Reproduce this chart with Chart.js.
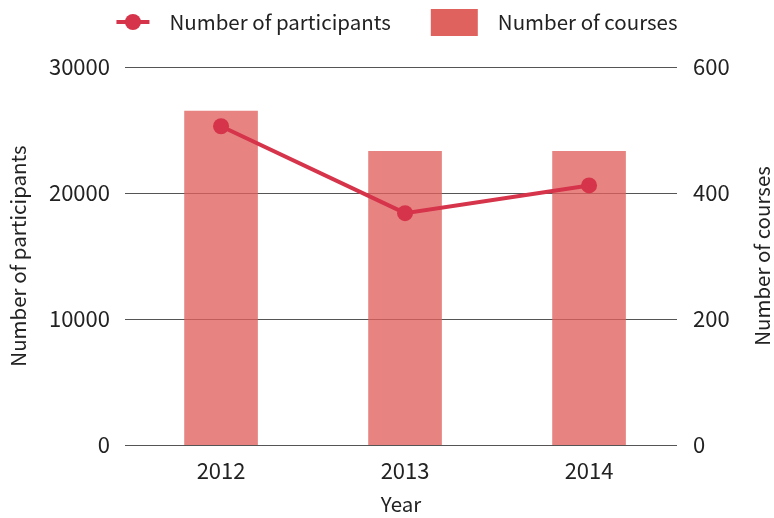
<!DOCTYPE html>
<html>
<head>
<meta charset="utf-8">
<script src="https://cdn.jsdelivr.net/npm/chart.js@4.4.1/dist/chart.umd.min.js"></script>
<style>
  html, body { margin: 0; padding: 0; background: #fff; }
  #wrap { width: 774px; height: 518px; position: relative; }
</style>
</head>
<body>
<div id="wrap"><canvas id="c" width="774" height="518"></canvas></div>
<script>
const years = ['2012', '2013', '2014'];
const participants = [25300, 18400, 20600];
const courses = [530, 466, 466];
const participantTicks = [0, 10000, 20000, 30000];
const courseTicks = [0, 200, 400, 600];
const seriesNames = ['Number of participants', 'Number of courses'];
const axisTitles = { x: 'Year', left: 'Number of participants', right: 'Number of courses' };

const FONT = '"Noto Sans CJK KR", Lato, sans-serif';
const FS = 20.5;   // titles and legend
const TS = 22;     // tick labels
const TEXT = '#222222';
const LINE_COLOR = '#d6344a';
const BAR_COLOR = 'rgba(224, 98, 95, 0.78)';
const BAR_LEGEND = '#e0625f';

const customDecor = {
  id: 'customDecor',
  afterDraw(chart) {
    const ctx = chart.ctx;
    const ca = chart.chartArea;
    ctx.save();
    ctx.font = FS + 'px ' + FONT;
    ctx.fillStyle = TEXT;
    ctx.textBaseline = 'middle';
    const tw1 = ctx.measureText(seriesNames[0]).width;
    const tw2 = ctx.measureText(seriesNames[1]).width;
    const total = 33 + 20 + tw1 + 40 + 47 + 20 + tw2;
    let x = (ca.left + ca.right) / 2 - 4 - total / 2;
    const y = 22;
    ctx.strokeStyle = LINE_COLOR;
    ctx.lineWidth = 4;
    ctx.beginPath(); ctx.moveTo(x, y); ctx.lineTo(x + 33, y); ctx.stroke();
    ctx.fillStyle = LINE_COLOR;
    ctx.beginPath(); ctx.arc(x + 16.5, y, 8, 0, Math.PI * 2); ctx.fill();
    x += 53;
    ctx.fillStyle = TEXT;
    ctx.textAlign = 'left';
    ctx.fillText(seriesNames[0], x, y);
    x += tw1 + 40;
    ctx.fillStyle = BAR_LEGEND;
    ctx.fillRect(x, y - 13, 47, 27);
    x += 67;
    ctx.fillStyle = TEXT;
    ctx.fillText(seriesNames[1], x, y);
    ctx.translate(762, (ca.top + ca.bottom) / 2);
    ctx.rotate(-Math.PI / 2);
    ctx.textAlign = 'center';
    ctx.fillText(axisTitles.right, 0, 0);
    ctx.restore();
  }
};

new Chart(document.getElementById('c'), {
  type: 'bar',
  data: {
    datasets: [
      {
        type: 'line',
        label: seriesNames[0],
        data: participants.map((v, i) => ({ x: i, y: v })),
        yAxisID: 'y',
        borderColor: LINE_COLOR,
        backgroundColor: LINE_COLOR,
        borderWidth: 4,
        pointRadius: 8,
        pointHoverRadius: 8,
        pointBackgroundColor: LINE_COLOR,
        pointBorderWidth: 0,
        tension: 0
      },
      {
        type: 'bar',
        label: seriesNames[1],
        data: courses.map((v, i) => ({ x: i, y: v })),
        yAxisID: 'y1',
        backgroundColor: BAR_COLOR,
        borderWidth: 0,
        barThickness: 73
      }
    ]
  },
  options: {
    responsive: false,
    animation: false,
    devicePixelRatio: 1,
    layout: { padding: { top: 67, left: 0, right: 0, bottom: 0 } },
    plugins: {
      legend: { display: false },
      tooltip: { enabled: false }
    },
    scales: {
      x: {
        type: 'linear',
        offset: false,
        bounds: 'data',
        min: -0.522,
        max: 2.478,
        afterBuildTicks(scale) { scale.ticks = years.map((_, i) => ({ value: i })); },
        afterFit(scale) { scale.height = 73; },
        grid: { display: false, drawTicks: false },
        border: { display: false },
        ticks: {
          padding: 12,
          color: TEXT,
          font: { family: FONT, size: TS, lineHeight: 1.2 },
          callback: (v) => years[v] !== undefined ? years[v] : ''
        },
        title: {
          display: true,
          text: axisTitles.x,
          color: TEXT,
          font: { family: FONT, size: FS, lineHeight: 1.2 },
          padding: { top: 0, bottom: 1 }
        }
      },
      y: {
        position: 'left',
        min: 0,
        max: 30000,
        afterBuildTicks(scale) { scale.ticks = participantTicks.map(v => ({ value: v })); },
        afterFit(scale) { scale.width = 125; },
        grid: { display: true, color: '#555555', lineWidth: 1, drawTicks: false },
        border: { display: false },
        ticks: {
          padding: 15,
          color: TEXT,
          font: { family: FONT, size: TS },
          callback: (v) => String(v)
        },
        title: {
          display: true,
          text: axisTitles.left,
          color: TEXT,
          font: { family: FONT, size: FS, lineHeight: 1.2 },
          padding: { top: 6, bottom: 0 }
        }
      },
      y1: {
        position: 'right',
        min: 0,
        max: 600,
        afterBuildTicks(scale) { scale.ticks = courseTicks.map(v => ({ value: v })); },
        afterFit(scale) { scale.width = 97; },
        grid: { display: false, drawTicks: false },
        border: { display: false },
        ticks: {
          padding: 16,
          color: TEXT,
          font: { family: FONT, size: TS },
          callback: (v) => String(v)
        }
      }
    }
  },
  plugins: [customDecor]
});
</script>
</body>
</html>
